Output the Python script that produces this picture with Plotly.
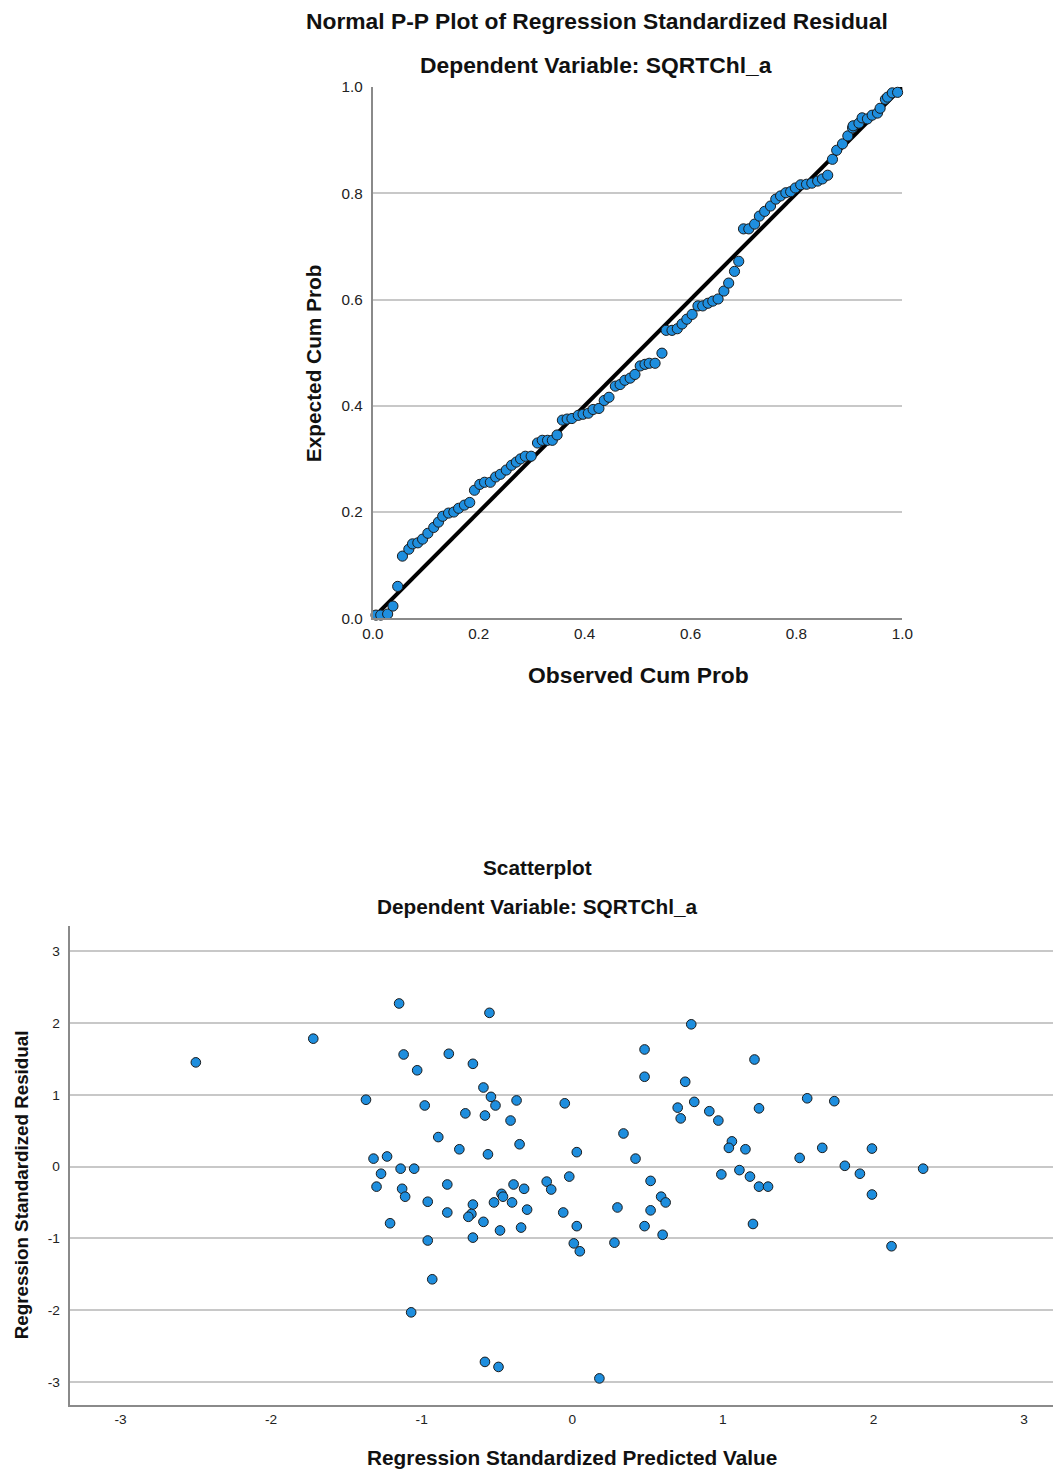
import plotly.graph_objects as go

# ---------------- P-P plot data ----------------
pp_observed = [0.006, 0.015, 0.028, 0.038, 0.047, 0.056, 0.068, 0.075, 0.085, 0.094,
               0.104, 0.115, 0.124, 0.132, 0.143, 0.153, 0.162, 0.173, 0.183, 0.192,
               0.202, 0.211, 0.222, 0.232, 0.241, 0.252, 0.262, 0.271, 0.279, 0.288,
               0.299, 0.311, 0.320, 0.330, 0.339, 0.348, 0.358, 0.367, 0.376, 0.388,
               0.397, 0.407, 0.416, 0.427, 0.437, 0.446, 0.458, 0.467, 0.476, 0.486,
               0.495, 0.505, 0.514, 0.522, 0.533, 0.546, 0.554, 0.565, 0.575, 0.584,
               0.593, 0.603, 0.614, 0.623, 0.633, 0.642, 0.652, 0.663, 0.672, 0.683,
               0.691, 0.700, 0.710, 0.721, 0.730, 0.740, 0.751, 0.761, 0.770, 0.780,
               0.789, 0.798, 0.808, 0.819, 0.829, 0.840, 0.849, 0.859, 0.868, 0.876,
               0.887, 0.897, 0.906, 0.907, 0.918, 0.924, 0.934, 0.943, 0.953, 0.958,
               0.968, 0.972, 0.981, 0.991]
pp_expected = [0.006, 0.006, 0.008, 0.023, 0.060, 0.117, 0.130, 0.140, 0.142, 0.149,
               0.160, 0.171, 0.181, 0.192, 0.198, 0.200, 0.207, 0.213, 0.218, 0.241,
               0.252, 0.256, 0.256, 0.266, 0.271, 0.279, 0.288, 0.294, 0.300, 0.305,
               0.305, 0.330, 0.335, 0.335, 0.335, 0.345, 0.373, 0.375, 0.376, 0.382,
               0.384, 0.386, 0.393, 0.395, 0.410, 0.416, 0.437, 0.440, 0.448, 0.452,
               0.459, 0.475, 0.478, 0.480, 0.480, 0.499, 0.542, 0.542, 0.545, 0.554,
               0.563, 0.572, 0.588, 0.588, 0.593, 0.597, 0.601, 0.616, 0.631, 0.653,
               0.672, 0.733, 0.733, 0.742, 0.757, 0.766, 0.776, 0.789, 0.795, 0.801,
               0.803, 0.810, 0.816, 0.817, 0.819, 0.823, 0.827, 0.834, 0.864, 0.881,
               0.893, 0.908, 0.923, 0.927, 0.932, 0.942, 0.940, 0.947, 0.951, 0.960,
               0.977, 0.981, 0.989, 0.990]
diag_x = [0.0, 1.0]
diag_y = [0.0, 1.0]
pp_ticks = [0.0, 0.2, 0.4, 0.6, 0.8, 1.0]
pp_ticklabels = ["0.0", "0.2", "0.4", "0.6", "0.8", "1.0"]

# ---------------- Scatterplot data ----------------
sc_pred = [-2.50, -1.72, -1.15, -0.55, 0.79, -1.37, -1.12, -0.82, -1.03, -0.66,
           0.48, 0.48, 1.21, -0.59, -0.54, -0.51, -0.37, -0.05, 0.75, -0.98,
           -0.71, -0.58, -0.41, 0.70, 0.81, 0.91, 0.97, 0.72, 1.24, 1.56,
           1.74, -0.89, -0.35, 0.34, 0.42, -0.75, -0.56, 0.03, 1.06, 1.04,
           1.15, 1.66, 1.99, 1.51, -1.32, -1.23, -1.27, -1.14, -1.05, -1.30,
           -1.13, -1.11, -1.21, -0.83, -0.96, -0.83, -0.66, -0.67, -0.69, -0.59,
           -0.47, -0.46, -0.52, -0.40, -0.39, -0.32, -0.30, -0.34, -0.48, -0.66,
           -0.96, -0.93, -1.07, -0.58, -0.49, 0.18, -0.17, -0.14, -0.02, -0.06,
           0.03, 0.01, 0.05, 0.30, 0.28, 0.52, 0.59, 0.62, 0.52, 0.48,
           0.60, 0.99, 1.11, 1.18, 1.24, 1.30, 1.20, 1.81, 1.91, 1.99,
           2.33, 2.12]
sc_resid = [1.45, 1.78, 2.27, 2.14, 1.98, 0.93, 1.56, 1.57, 1.34, 1.43,
            1.63, 1.25, 1.49, 1.10, 0.97, 0.85, 0.92, 0.88, 1.18, 0.85,
            0.74, 0.71, 0.64, 0.82, 0.90, 0.77, 0.64, 0.67, 0.81, 0.95,
            0.91, 0.41, 0.31, 0.46, 0.11, 0.24, 0.17, 0.20, 0.35, 0.26,
            0.24, 0.26, 0.25, 0.12, 0.11, 0.14, -0.10, -0.03, -0.03, -0.28,
            -0.31, -0.42, -0.79, -0.25, -0.49, -0.64, -0.53, -0.66, -0.70, -0.77,
            -0.38, -0.42, -0.50, -0.50, -0.25, -0.31, -0.60, -0.85, -0.89, -0.99,
            -1.03, -1.57, -2.03, -2.72, -2.79, -2.95, -0.21, -0.32, -0.14, -0.64,
            -0.83, -1.07, -1.18, -0.57, -1.06, -0.20, -0.42, -0.50, -0.61, -0.83,
            -0.95, -0.11, -0.05, -0.14, -0.28, -0.28, -0.80, 0.01, -0.10, -0.39,
            -0.03, -1.11]
sc_ticks = [-3, -2, -1, 0, 1, 2, 3]
sc_ticklabels = ["-3", "-2", "-1", "0", "1", "2", "3"]

W, H = 1064, 1471
# the photographed page appears slightly shrunk and shifted; positions below are
# given in picture pixels and mapped back to page pixels
SX, OX = 0.982, 9.2
SY, OY = 0.988, 8.0
FS = 1 / 0.985

MARKER_FILL = "#1e8ede"
MARKER_LINE = "#1b1b1b"
GRID = "#c8c8c8"
AXLINE = "#8a8a8a"
FONT = "Liberation Sans, Arial, sans-serif"


def px(x):
    return ((x - OX) / SX) / W


def py(y):
    return 1 - ((y - OY) / SY) / H


fig = go.Figure()

fig.add_trace(go.Scatter(x=diag_x, y=diag_y, mode="lines",
                         line=dict(color="black", width=4),
                         xaxis="x", yaxis="y", showlegend=False, hoverinfo="skip"))
fig.add_trace(go.Scatter(x=pp_observed, y=pp_expected, mode="markers",
                         marker=dict(size=10 * FS, color=MARKER_FILL,
                                     line=dict(color=MARKER_LINE, width=1)),
                         xaxis="x", yaxis="y", showlegend=False, cliponaxis=False))
fig.add_trace(go.Scatter(x=sc_pred, y=sc_resid, mode="markers",
                         marker=dict(size=9.5 * FS, color=MARKER_FILL,
                                     line=dict(color=MARKER_LINE, width=1)),
                         xaxis="x2", yaxis="y2", showlegend=False, cliponaxis=False))

tickfont_top = dict(family=FONT, size=15 * FS, color="#222222")
tickfont_bot = dict(family=FONT, size=13.5 * FS, color="#222222")

# right end of the lower plot is the page edge
x2_right = (((W * SX) + OX) - 572) / 151.0

fig.update_layout(
    width=W, height=H,
    margin=dict(l=0, r=0, t=0, b=0),
    paper_bgcolor="white", plot_bgcolor="white",
    font=dict(family=FONT),
    xaxis=dict(domain=[px(372), px(903)], range=[0, 1], anchor="y",
               tickvals=pp_ticks, ticktext=pp_ticklabels, tickfont=tickfont_top,
               showgrid=False, zeroline=False, showline=True, linecolor=AXLINE,
               linewidth=2, ticks="", ticklabelstandoff=0),
    yaxis=dict(domain=[py(617), py(86)], range=[0, 1], anchor="x",
               tickvals=pp_ticks, ticktext=pp_ticklabels, tickfont=tickfont_top,
               showgrid=True, gridcolor=GRID, gridwidth=1.5, zeroline=False,
               showline=True, linecolor=AXLINE, linewidth=2, ticks="",
               ticklabelstandoff=5),
    xaxis2=dict(domain=[px(68), 1.0], range=[-3.338, x2_right], anchor="y2",
                tickvals=sc_ticks, ticktext=sc_ticklabels, tickfont=tickfont_bot,
                showgrid=False, zeroline=False, showline=True, linecolor=AXLINE,
                linewidth=2, ticks="", ticklabelstandoff=1),
    yaxis2=dict(domain=[py(1403), py(925)], range=[-3.315, 3.343], anchor="x2",
                tickvals=sc_ticks, ticktext=sc_ticklabels, tickfont=tickfont_bot,
                showgrid=True, gridcolor=GRID, gridwidth=1.5, zeroline=False,
                showline=True, linecolor=AXLINE, linewidth=2, ticks="",
                ticklabelstandoff=5),
)


def ann(text, x, y, size, angle=0):
    fig.add_annotation(text=text, x=px(x), y=py(y), xref="paper", yref="paper",
                       xanchor="center", yanchor="middle", showarrow=False,
                       textangle=angle,
                       font=dict(family=FONT, size=size * FS, color="#111111"))


ann("<b>Normal P-P Plot of Regression Standardized Residual</b>", 597, 20, 22.5)
ann("<b>Dependent Variable: SQRTChl_a</b>", 596, 64, 22.5)
ann("<b>Observed Cum Prob</b>", 638, 674, 22.5)
ann("<b>Expected Cum Prob</b>", 312, 362, 20.5, angle=-90)

ann("<b>Scatterplot</b>", 537, 866, 20.5)
ann("<b>Dependent Variable: SQRTChl_a</b>", 537, 905, 20.5)
ann("<b>Regression Standardized Predicted Value</b>", 572, 1456, 20.5)
ann("<b>Regression Standardized Residual</b>", 20, 1183, 18.5, angle=-90)

fig.write_html("out.html", config={"displayModeBar": False},
               post_script="document.body.style.margin='0';document.body.style.overflow='hidden';")
